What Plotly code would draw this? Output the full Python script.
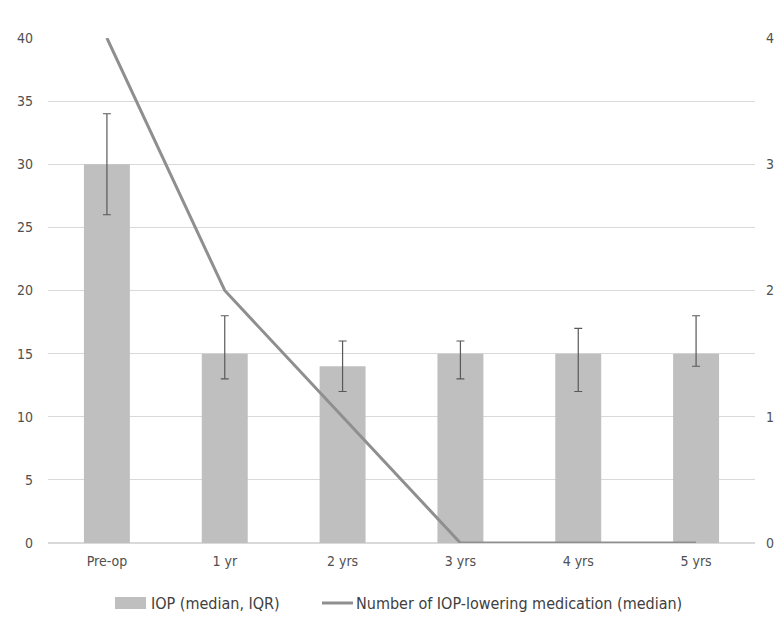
import plotly.graph_objects as go

categories = ["Pre-op", "1 yr", "2 yrs", "3 yrs", "4 yrs", "5 yrs"]
iop_median = [30, 15, 14, 15, 15, 15]
iop_q1 = [26, 13, 12, 13, 12, 14]
iop_q3 = [34, 18, 16, 16, 17, 18]
med_count = [4, 2, 1, 0, 0, 0]
bar_name = "IOP (median, IQR)"
line_name = "Number of IOP-lowering medication (median)"

err_plus = [q3 - m for q3, m in zip(iop_q3, iop_median)]
err_minus = [m - q1 for q1, m in zip(iop_q1, iop_median)]

font_family = "DejaVu Sans Condensed, Liberation Sans Narrow, Arial, sans-serif"
txt = "#505050"
bar_col = "#bfbfbf"
line_col = "#8f8f8f"

W, H = 783, 626
L, R, T, B = 48, 28, 38, 83
pw, ph = W - L - R, H - T - B


def px(x):
    return (x - L) / pw


def py(y):
    return (H - B - y) / ph


fig = go.Figure()
fig.add_trace(go.Bar(
    x=categories, y=iop_median, name=bar_name,
    marker=dict(color=bar_col, line=dict(width=0)),
    width=0.39,
    error_y=dict(type="data", symmetric=False, array=err_plus, arrayminus=err_minus,
                 color="#595959", thickness=1.2, width=4),
    yaxis="y", showlegend=False,
))
fig.add_trace(go.Scatter(
    x=categories, y=med_count, name=line_name,
    mode="lines", line=dict(color=line_col, width=3),
    yaxis="y2", showlegend=False,
))

# custom legend
leg_y = 603
fig.add_shape(type="rect", xref="paper", yref="paper",
              x0=px(115), x1=px(146), y0=py(609), y1=py(597),
              fillcolor=bar_col, line=dict(width=0))
fig.add_shape(type="line", xref="paper", yref="paper",
              x0=px(322), x1=px(353), y0=py(leg_y), y1=py(leg_y),
              line=dict(color=line_col, width=3))
for xpos, name in [(149, bar_name), (354, line_name)]:
    fig.add_annotation(text=name, xref="paper", yref="paper", x=px(xpos), y=py(leg_y),
                       xanchor="left", yanchor="middle", showarrow=False,
                       font=dict(size=16, color="#404040", family=font_family))

fig.update_layout(
    width=W, height=H,
    margin=dict(l=L, r=R, t=T, b=B, autoexpand=False),
    paper_bgcolor="white", plot_bgcolor="white",
    font=dict(family=font_family, size=14, color=txt),
    showlegend=False,
    xaxis=dict(showgrid=False, showline=False, ticks="", automargin=False,
               tickfont=dict(size=14, color=txt), ticklabelstandoff=8),
    yaxis=dict(range=[0, 40], dtick=5, showgrid=True, gridcolor="#d9d9d9", gridwidth=1,
               zeroline=True, zerolinecolor="#d9d9d9", showline=False, ticks="",
               automargin=False, tickfont=dict(size=14, color=txt), ticklabelstandoff=14),
    yaxis2=dict(range=[0, 4], dtick=1, overlaying="y", side="right", showgrid=False,
                zeroline=False, showline=False, ticks="", automargin=False,
                tickfont=dict(size=14, color=txt), ticklabelstandoff=10),
)

fig.write_html("out.html", config={"displayModeBar": False},
               post_script=["document.body.style.margin='0';"])
